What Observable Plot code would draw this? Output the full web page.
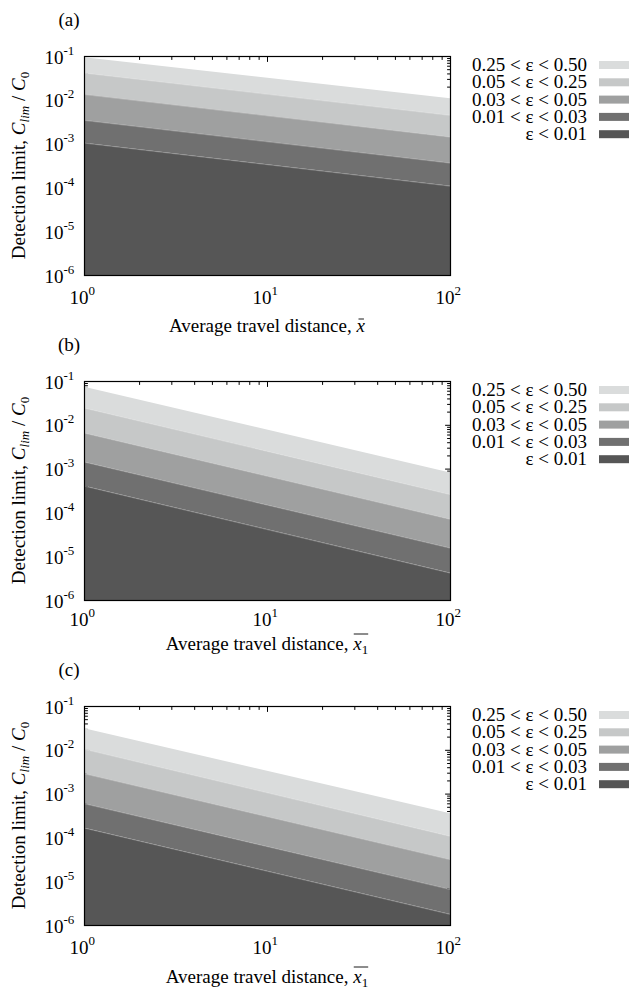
<!DOCTYPE html>
<html>
<head>
<meta charset="utf-8">
<script src="https://cdn.jsdelivr.net/npm/d3@7"></script>
<script src="https://cdn.jsdelivr.net/npm/@observablehq/plot@0.6"></script>
<style>
  body { margin: 0; background: #fff; }
  #chart { width: 630px; }
  #chart svg { display: block; }
</style>
</head>
<body>
<div id="chart"></div>
<script>
// Travel-distance range and detection-limit floor
const xEnds = [1, 100];
const floorValue = 1e-6;

// Error bands, from the highest boundary down
const bandLabels = ["0.25 < ε < 0.50", "0.05 < ε < 0.25", "0.03 < ε < 0.05", "0.01 < ε < 0.03", "ε < 0.01"];
const bandFills = ["#dadcdc", "#c6c8c8", "#9fa0a0", "#707070", "#565656"];

// Upper edge of each band (C_lim / C0) at x = 1 and at x = 100
const panelA_atStart = [0.094, 0.0416, 0.0135, 0.00346, 0.00105];
const panelA_atEnd   = [0.0108, 0.0045, 0.00144, 0.000366, 0.000109];
const panelB_atStart = [0.074, 0.0246, 0.0066, 0.00144, 0.000407];
const panelB_atEnd   = [0.00082, 0.00026, 0.000071, 0.0000156, 0.0000042];
const panelC_atStart = [0.031, 0.0105, 0.0029, 0.0006, 0.000167];
const panelC_atEnd   = [0.000355, 0.000108, 0.0000316, 0.0000066, 0.00000178];

// Axis tick labels
const xMajor = [1, 10, 100];
const xExponents = ["0", "1", "2"];
const yMajor = [1e-6, 1e-5, 1e-4, 1e-3, 1e-2, 1e-1];
const yExponents = ["-6", "-5", "-4", "-3", "-2", "-1"];
const panelTags = ["(a)", "(b)", "(c)"];

const FONT = "'Liberation Serif', 'Times New Roman', serif";
const FS = 19;
const FS_SMALL = 13;

function minorTicks(lo, hi) {
  const out = [];
  for (let d = lo; d < hi; d *= 10) for (let m = 2; m <= 9; m++) out.push(d * m);
  return out;
}
const xMinor = minorTicks(1, 100);
const yMinor = minorTicks(1e-6, 1e-1);

// a short straight stroke pointing "up" before rotation
const tickShape = { draw(ctx, l) { ctx.moveTo(0, 0); ctx.lineTo(0, -l); } };

function tickMarks(values, axis, len) {
  const common = { shape: tickShape, length: len, anchor: "start", stroke: "black", strokeWidth: 1 };
  if (axis === "x") {
    return [
      Plot.vector(values, { ...common, x: d => d, y: () => floorValue, rotate: 0 }),
      Plot.vector(values, { ...common, x: d => d, y: () => 1e-1, rotate: 180 })
    ];
  }
  return [
    Plot.vector(values, { ...common, x: () => 1, y: d => d, rotate: 90 }),
    Plot.vector(values, { ...common, x: () => 100, y: d => d, rotate: 270 })
  ];
}

const container = document.getElementById("chart");

function panel(idx, starts, ends, opts) {
  const { height, subscriptOne, tickLabelDy, xLabelBaseline } = opts;
  const W = 630, mL = 84, mR = 180, mT = 56, mB = height - 275;

  const rows = [];
  bandLabels.forEach((band, i) => {
    xEnds.forEach((x, j) => {
      const edge = j === 0 ? starts : ends;
      rows.push({ band, x, hi: edge[i], lo: i < edge.length - 1 ? edge[i + 1] : floorValue });
    });
  });
  const edges = [];
  for (let i = 1; i < starts.length; i++) {
    xEnds.forEach((x, j) => edges.push({ k: i, x, y: (j === 0 ? starts : ends)[i] }));
  }

  const svg = Plot.plot({
    width: W, height,
    marginLeft: mL, marginRight: mR, marginTop: mT, marginBottom: mB,
    style: { fontFamily: FONT, background: "white", overflow: "visible" },
    x: { type: "log", domain: [1, 100], axis: null },
    y: { type: "log", domain: [floorValue, 1e-1], axis: null },
    color: { domain: bandLabels, range: bandFills },
    marks: [
      ...tickMarks(xMajor, "x", 5),
      ...tickMarks(xMinor, "x", 3),
      ...tickMarks(yMajor, "y", 5),
      ...tickMarks(yMinor, "y", 3),
      Plot.areaY(rows, { x: "x", y1: "lo", y2: "hi", fill: "band", z: "band" }),
      Plot.line(edges, { x: "x", y: "y", z: "k", stroke: "white", strokeOpacity: 0.3, strokeWidth: 0.8 }),
      Plot.frame({ stroke: "black", strokeWidth: 1.2 }),
      // y tick labels: base and exponent
      Plot.text(yMajor, { x: () => 1, y: d => d, text: () => "10", textAnchor: "end", dx: -21, dy: 1, fontSize: FS, fontFamily: FONT, fill: "black" }),
      Plot.text(yMajor, { x: () => 1, y: d => d, text: (d, i) => yExponents[i], textAnchor: "start", dx: -21, dy: -6, fontSize: FS_SMALL, fontFamily: FONT, fill: "black" }),
      // x tick labels
      Plot.text(xMajor, { x: d => d, y: () => floorValue, text: () => "10", textAnchor: "end", dx: 4, dy: tickLabelDy, fontSize: FS, fontFamily: FONT, fill: "black" }),
      Plot.text(xMajor, { x: d => d, y: () => floorValue, text: (d, i) => xExponents[i], textAnchor: "start", dx: 4, dy: tickLabelDy - 7, fontSize: FS_SMALL, fontFamily: FONT, fill: "black" })
    ]
  });
  container.appendChild(svg);

  const s = d3.select(svg);
  const txt = (sel) => sel.attr("font-family", FONT).attr("font-size", FS).attr("fill", "black");

  // panel tag
  txt(s.append("text")).attr("x", 69).attr("y", mT - 30).attr("text-anchor", "middle").text(panelTags[idx]);

  // y-axis title
  const yt = txt(s.append("text"))
    .attr("text-anchor", "middle")
    .attr("transform", `translate(25,${(mT + 275) / 2}) rotate(-90)`);
  yt.append("tspan").text("Detection limit, ");
  yt.append("tspan").attr("font-style", "italic").text("C");
  yt.append("tspan").attr("font-style", "italic").attr("font-size", FS_SMALL).attr("dy", 4).text("lim");
  yt.append("tspan").attr("dy", -4).text(" / ");
  yt.append("tspan").attr("font-style", "italic").text("C");
  yt.append("tspan").attr("font-size", FS_SMALL).attr("dy", 4).text("0");

  // x-axis title with an overlined mean symbol
  const prefix = "Average travel distance, ";
  const xt = txt(s.append("text"))
    .attr("text-anchor", "middle")
    .attr("x", (mL + W - mR) / 2).attr("y", xLabelBaseline);
  xt.append("tspan").text(prefix);
  xt.append("tspan").attr("font-style", "italic").text("x");
  if (subscriptOne) xt.append("tspan").attr("font-size", FS_SMALL).attr("dy", 4).text("1");
  const node = xt.node();
  const first = node.getExtentOfChar(prefix.length);
  const last = node.getExtentOfChar(prefix.length + (subscriptOne ? 1 : 0));
  const barY = subscriptOne ? first.y + 1 : first.y + 4;
  s.append("line")
    .attr("x1", first.x + (subscriptOne ? 0.5 : 2)).attr("x2", last.x + last.width - (subscriptOne ? 0 : 1))
    .attr("y1", barY).attr("y2", barY)
    .attr("stroke", "black").attr("stroke-width", 0.9);

  // legend
  const lg = s.append("g");
  bandLabels.forEach((label, i) => {
    const cy = mT + 9 + i * 17.3;
    txt(lg.append("text")).attr("x", 587).attr("y", cy + 6).attr("text-anchor", "end").text(label);
    lg.append("rect").attr("x", 599).attr("y", cy - 4).attr("width", 30).attr("height", 8).attr("fill", bandFills[i]);
  });
}

panel(0, panelA_atStart, panelA_atEnd, { height: 325, subscriptOne: false, tickLabelDy: 22, xLabelBaseline: 332 });
panel(1, panelB_atStart, panelB_atEnd, { height: 325, subscriptOne: true, tickLabelDy: 19, xLabelBaseline: 325 });
panel(2, panelC_atStart, panelC_atEnd, { height: 342, subscriptOne: true, tickLabelDy: 22, xLabelBaseline: 333 });
</script>
</body>
</html>
